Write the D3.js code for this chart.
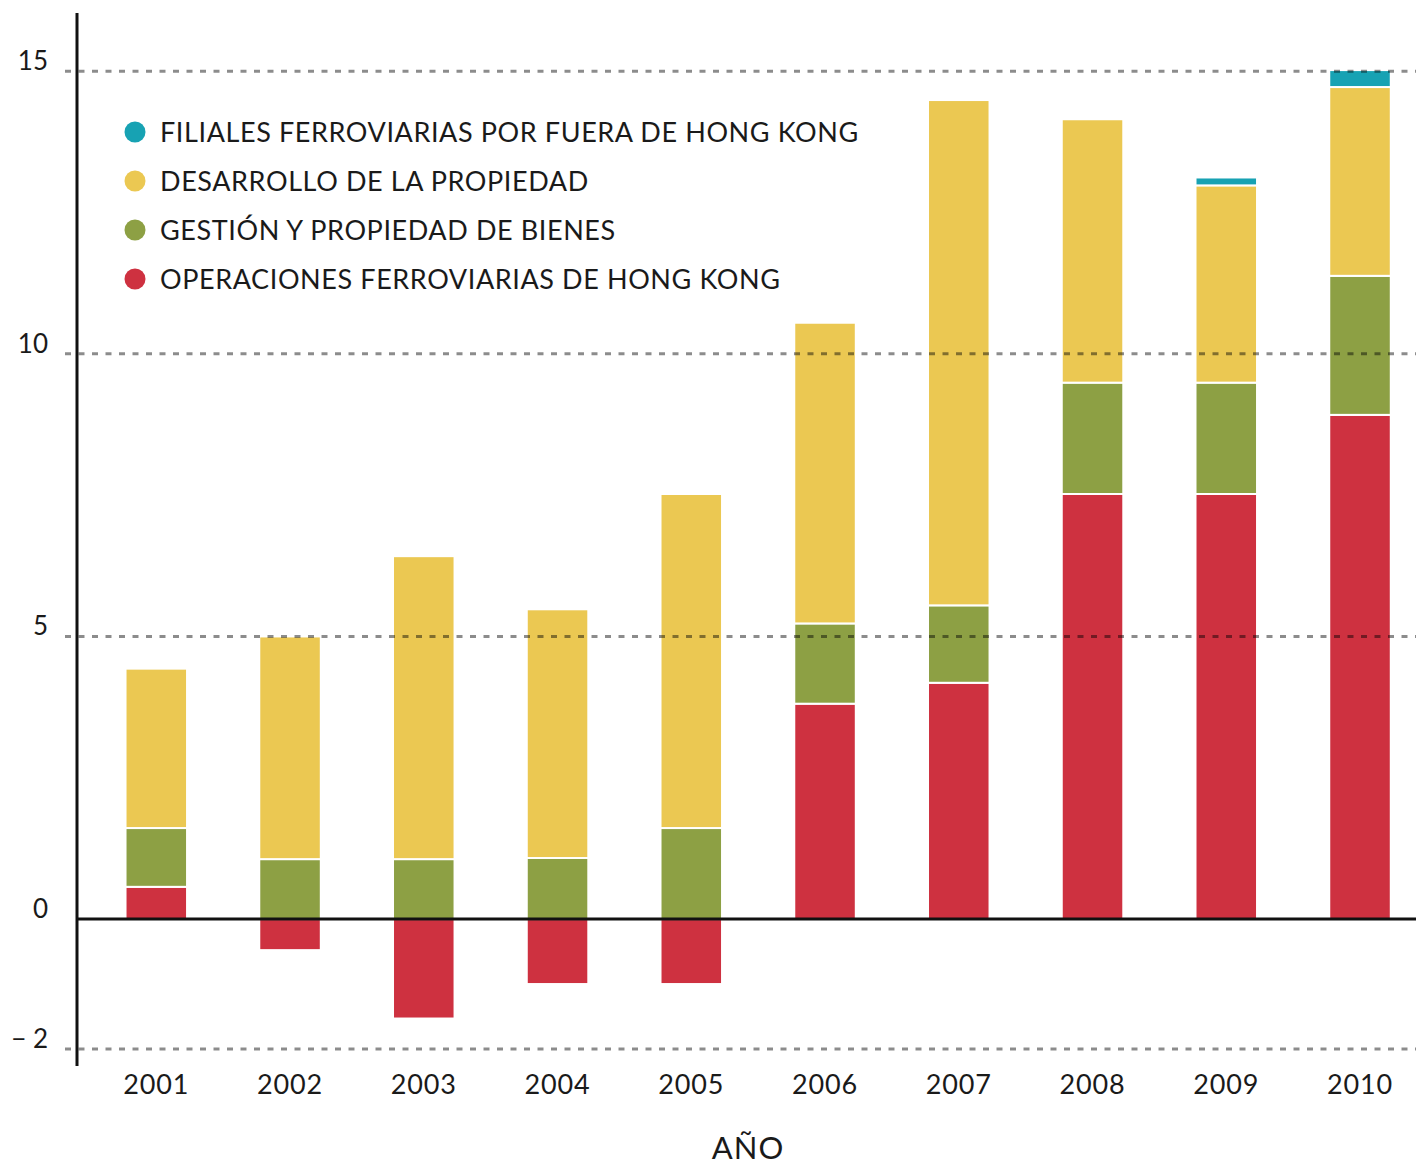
<!DOCTYPE html>
<html lang="es">
<head>
<meta charset="utf-8"/>
<style>
  body { margin: 0; background: #ffffff; }
  * { font-family: "Lato", "Open Sans", sans-serif; }
  .grid line { stroke: #000; stroke-opacity: 0.45; stroke-width: 3; stroke-dasharray: 6,7.5; }
  .ylab, .xlab, .leg { fill: #1a1a1a; }
</style>
</head>
<body>
<svg id="chart" width="1416" height="1167"></svg>

<script src="https://d3js.org/d3.v7.min.js"></script>
<script>
  // years and series (value per segment)
  let years = ["2001","2002","2003","2004","2005","2006","2007","2008","2009","2010"]
  let hkRail    = [0.57, -0.55, -1.76, -1.15, -1.15, 3.81, 4.18, 7.52, 7.52, 8.92]
  let propMgmt  = [1.04, 1.06, 1.06, 1.08, 1.61, 1.42, 1.37, 1.97, 1.97, 2.46]
  let propDev   = [2.82, 3.94, 5.36, 4.40, 5.91, 5.32, 8.94, 4.66, 3.49, 3.34]
  let outsideHK = [0, 0, 0, 0, 0, 0, 0, 0, 0.14, 0.30]

  let seriesKeys   = ["hk", "mgmt", "dev", "out"]
  let seriesNames  = ["OPERACIONES FERROVIARIAS DE HONG KONG", "GESTIÓN Y PROPIEDAD DE BIENES",
                      "DESARROLLO DE LA PROPIEDAD", "FILIALES FERROVIARIAS POR FUERA DE HONG KONG"]
  let seriesColors = ["#ce3140", "#8da044", "#ebc852", "#17a2b3"]

  // the lowest grid line sits a bit below -2 in the original
  let yTicks      = [-2.3, 0, 5, 10, 15]
  let yTickLabels = ["− 2", "0", "5", "10", "15"]

  let svg = d3.select("#chart")
  let width = 1416

  let rows = years.map((y, i) => ({
    year: y, hk: hkRail[i], mgmt: propMgmt[i], dev: propDev[i], out: outsideHK[i]
  }))

  let stacked = d3.stack()
    .keys(seriesKeys)
    .offset(d3.stackOffsetDiverging)(rows)

  let yScale = d3.scaleLinear()
    .domain([-2.6, 16.03])
    .range([1066, 13])

  let xScale = d3.scaleBand()
    .domain(years)
    .range([85.4, 1430.9])
    .paddingInner(0.54)
    .paddingOuter(0.3)

  // bars
  svg.append("g").selectAll("g")
    .data(stacked)
    .enter().append("g")
    .attr("fill", (d, i) => seriesColors[i])
    .selectAll("rect")
    .data(d => d.filter(s => s[1] !== s[0]))
    .enter().append("rect")
    .attr("x", d => xScale(d.data.year))
    .attr("width", xScale.bandwidth())
    .attr("y", d => yScale(Math.max(d[0], d[1])))
    .attr("height", d => Math.abs(yScale(d[0]) - yScale(d[1])))
    .attr("stroke", "#ffffff")
    .attr("stroke-width", 2)

  // dashed grid on top of the bars (not at zero)
  let grid = svg.append("g").attr("class", "grid")
  grid.selectAll("line")
    .data(yTicks.filter(t => t !== 0))
    .enter().append("line")
    .attr("x1", 65).attr("x2", width)
    .attr("y1", d => yScale(d)).attr("y2", d => yScale(d))

  // y labels
  svg.append("g").selectAll("text")
    .data(yTicks)
    .enter().append("text")
    .attr("class", "ylab")
    .attr("x", 48)
    .attr("y", d => yScale(d) - 1)
    .attr("text-anchor", "end")
    .attr("font-size", 26)
    .text((d, i) => yTickLabels[i])

  // x axis labels
  let xAxis = d3.axisBottom(xScale).tickSize(0).tickPadding(0)
  svg.append("g")
    .attr("transform", "translate(0,1094)")
    .call(xAxis)
    .call(g => g.select(".domain").remove())
    .selectAll("text")
    .attr("class", "xlab")
    .attr("dy", 0)
    .attr("font-size", 27)
    .style("letter-spacing", "0.8px")
    .style("font-family", "Lato, sans-serif")

  // axis lines
  svg.append("line")
    .attr("x1", 77).attr("x2", width)
    .attr("y1", yScale(0)).attr("y2", yScale(0))
    .attr("stroke", "#111").attr("stroke-width", 3)
  svg.append("line")
    .attr("x1", 77).attr("x2", 77)
    .attr("y1", 13).attr("y2", 1066)
    .attr("stroke", "#111").attr("stroke-width", 3)

  // legend, top entry first
  let legend = svg.append("g")
  let order = [3, 2, 1, 0]
  order.forEach((k, j) => {
    let cy = 132 + j * 49
    legend.append("circle")
      .attr("cx", 135).attr("cy", cy).attr("r", 10.5)
      .attr("fill", seriesColors[k])
    legend.append("text")
      .attr("class", "leg")
      .attr("x", 160).attr("y", cy + 10)
      .attr("font-size", 27)
      .style("letter-spacing", "0.6px")
      .text(seriesNames[k])
  })

  svg.append("text")
    .attr("x", 748).attr("y", 1159)
    .attr("text-anchor", "middle")
    .attr("font-size", 31)
    .attr("fill", "#1a1a1a")
    .style("letter-spacing", "1px")
    .text("AÑO")
</script>
</body>
</html>
